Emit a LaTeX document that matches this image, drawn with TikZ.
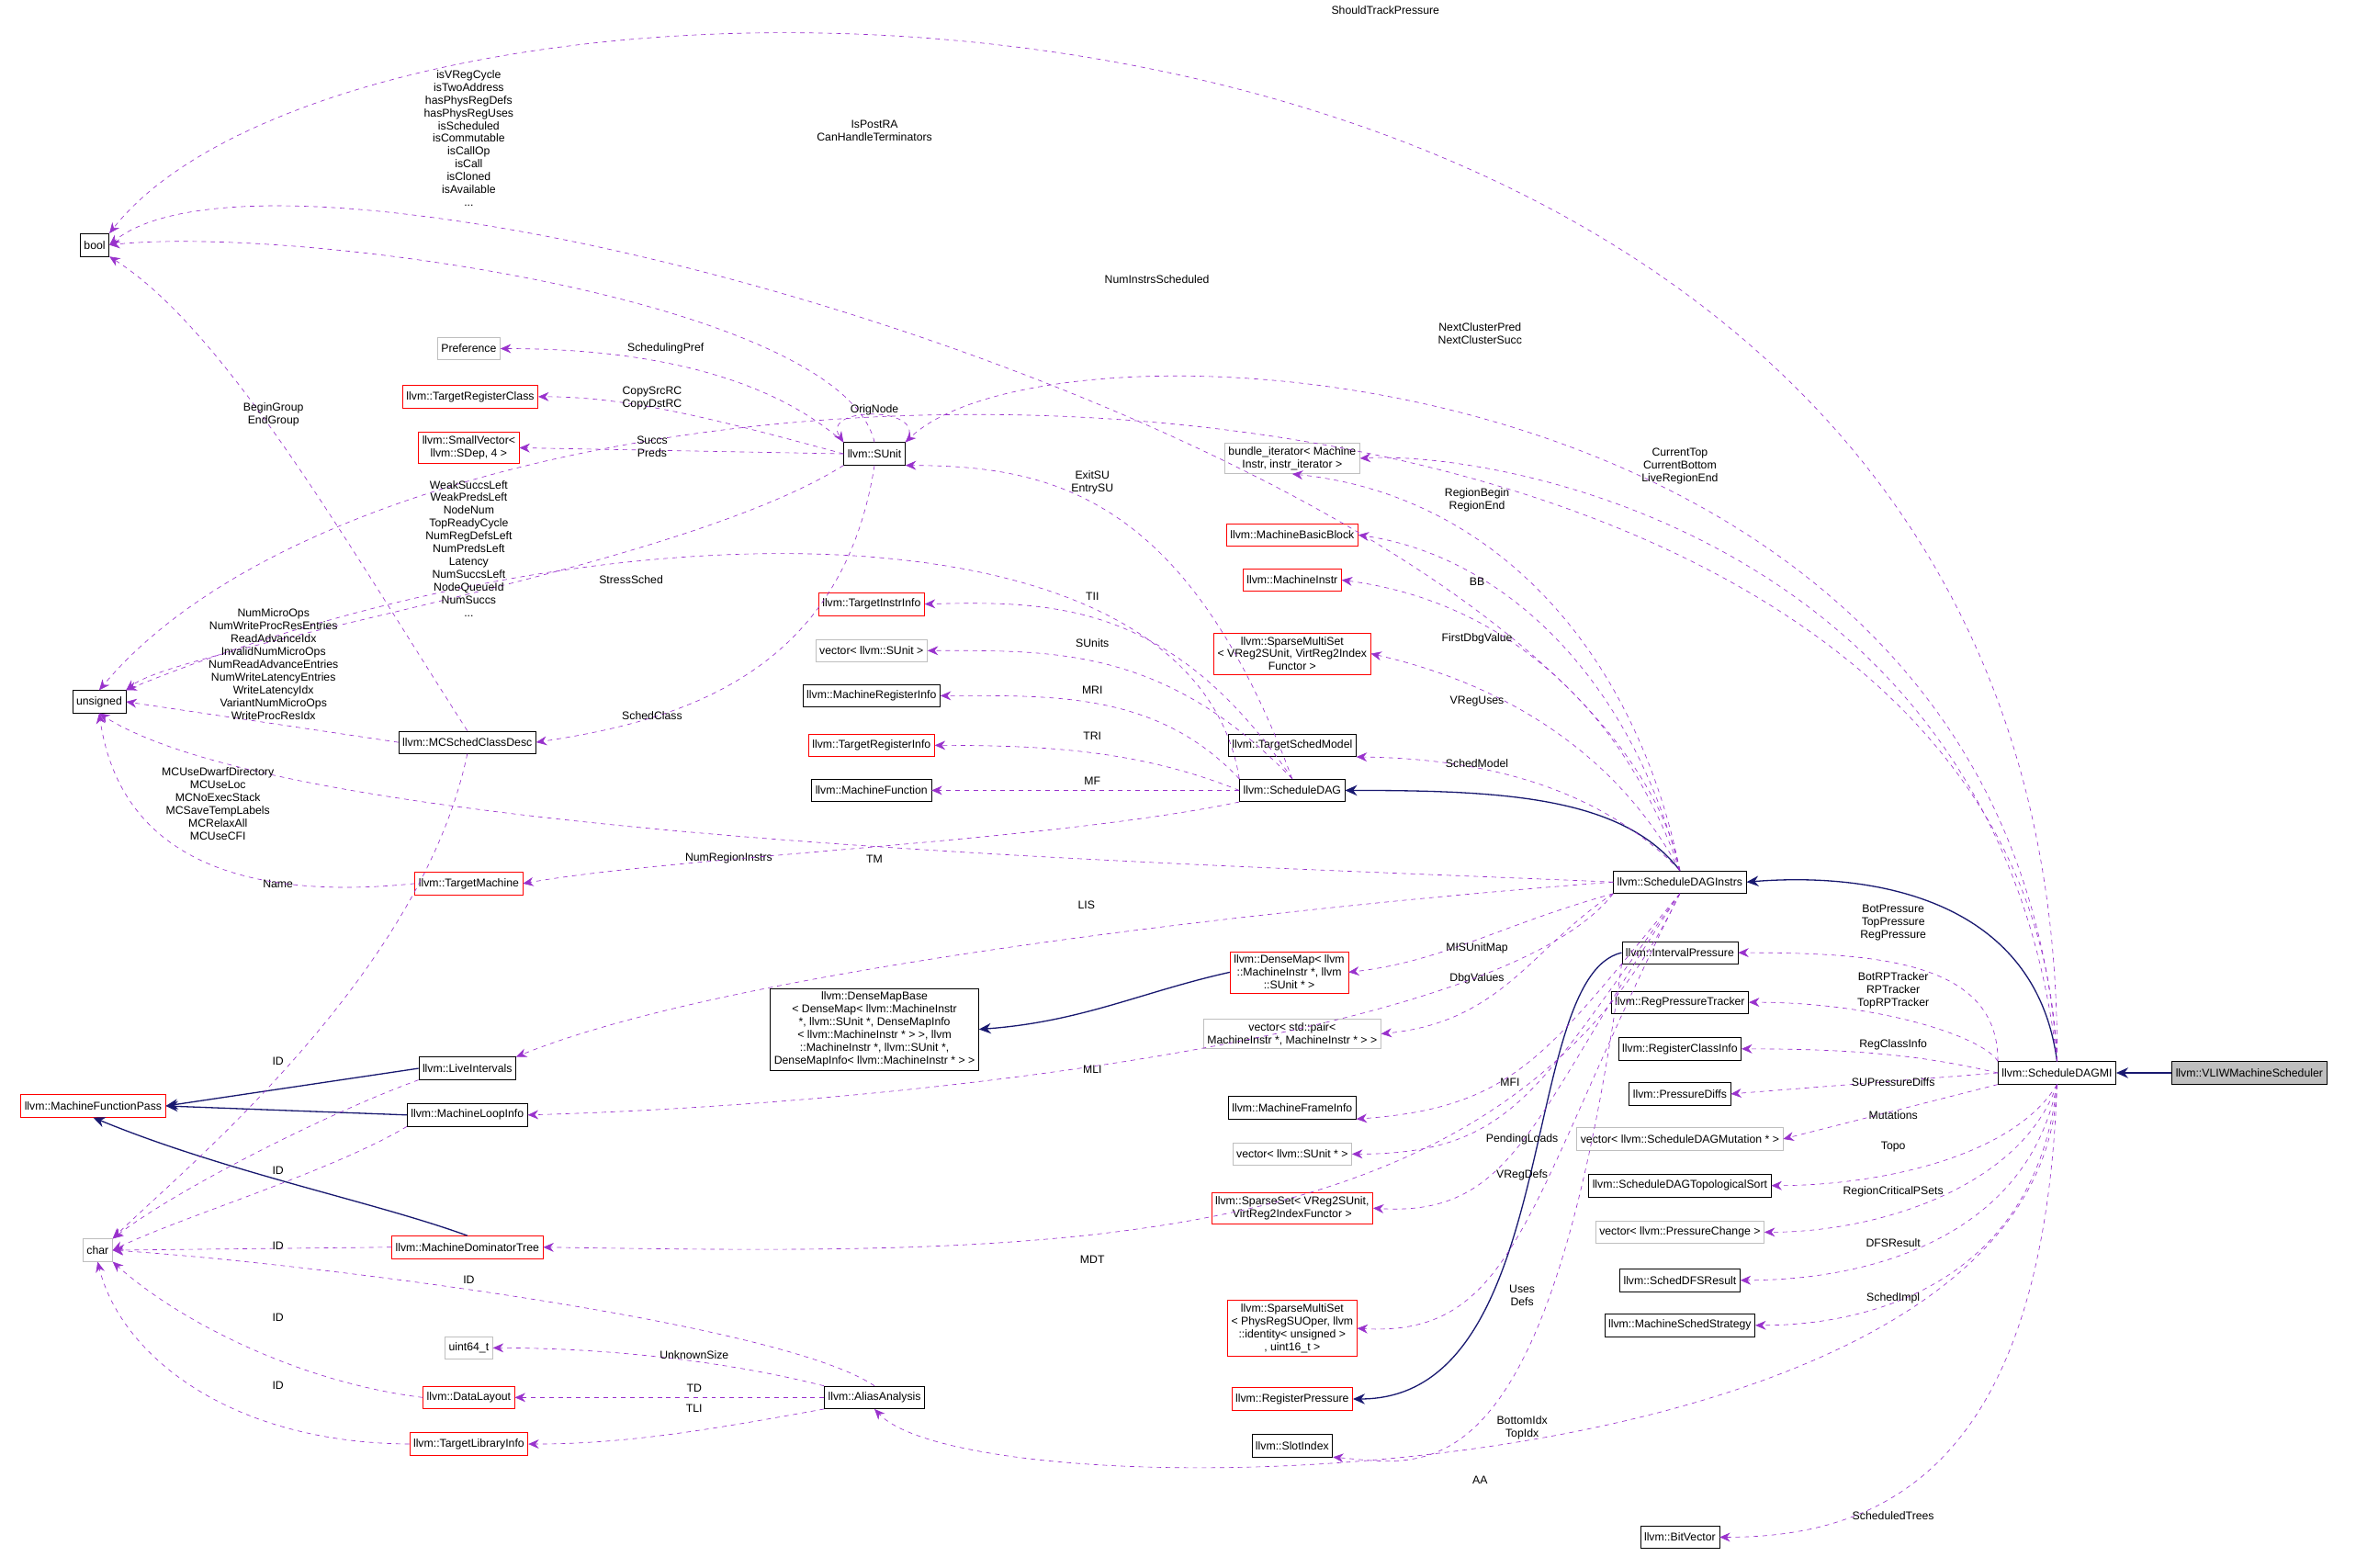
\documentclass[tikz,border=0pt]{standalone}
\usepackage{fontspec}
\setmainfont{Liberation Sans}
\usetikzlibrary{arrows.meta, positioning}
\definecolor{usecol}{RGB}{153,50,204}
\definecolor{inhcol}{RGB}{25,25,112}
\definecolor{boxgray}{RGB}{191,191,191}

\tikzset{
  cls/.style={draw=black, fill=white, inner sep=2.5pt, minimum height=15pt, align=center, font=\fontsize{7.5}{8.5}\selectfont},
  redcls/.style={cls, draw=red},
  graycls/.style={cls, draw=boxgray},
  use/.style={usecol, dashed, -{Stealth[length=7pt,width=6pt]}},
  inh/.style={inhcol, line width=0.8pt, -{Stealth[length=8pt,width=7pt]}},
  lbl/.style={align=center, inner sep=0pt, font=\fontsize{7.5}{8.5}\selectfont}
}

\begin{document}
\begin{tikzpicture}[x=1pt,y=-1pt]
  \useasboundingbox (0,0) rectangle (1568,1043);

  % left column
  \node[cls] (bool) at (63,163) {bool};
  \node[cls] (unsigned) at (66,467) {unsigned};
  \node[redcls] (mfp) at (62,736) {llvm::MachineFunctionPass};
  \node[graycls] (char) at (65,832) {char};

  % second column
  \node[graycls] (pref) at (312,232) {Preference};
  \node[redcls] (trc) at (313,264) {llvm::TargetRegisterClass};
  \node[redcls] (svec) at (312,298) {llvm::SmallVector<\\llvm::SDep, 4 >};
  \node[cls] (mcsd) at (311,494) {llvm::MCSchedClassDesc};
  \node[redcls] (tm) at (312,588) {llvm::TargetMachine};
  \node[cls] (lis) at (311,711) {llvm::LiveIntervals};
  \node[cls] (mli) at (311,742) {llvm::MachineLoopInfo};
  \node[redcls] (mdt) at (311,830) {llvm::MachineDominatorTree};
  \node[graycls] (u64) at (312,897) {uint64\_t};
  \node[redcls] (dl) at (312,930) {llvm::DataLayout};
  \node[redcls] (tli) at (312,961) {llvm::TargetLibraryInfo};

  % third column
  \node[cls] (sunit) at (582,302) {llvm::SUnit};
  \node[redcls] (tii) at (580,402) {llvm::TargetInstrInfo};
  \node[graycls] (vsu) at (580,433) {vector< llvm::SUnit >};
  \node[cls] (mri) at (580,463) {llvm::MachineRegisterInfo};
  \node[redcls] (tri) at (580,496) {llvm::TargetRegisterInfo};
  \node[cls] (mf) at (580,526) {llvm::MachineFunction};
  \node[cls] (dmb) at (582,685) {llvm::DenseMapBase\\< DenseMap< llvm::MachineInstr\\ *, llvm::SUnit *, DenseMapInfo\\< llvm::MachineInstr * > >, llvm\\::MachineInstr *, llvm::SUnit *,\\ DenseMapInfo< llvm::MachineInstr * > >};
  \node[cls] (aa) at (582,930) {llvm::AliasAnalysis};

  % fourth column
  \node[graycls] (bit) at (860,305) {bundle\_iterator< Machine\\Instr, instr\_iterator >};
  \node[redcls] (mbb) at (860,356) {llvm::MachineBasicBlock};
  \node[redcls] (mi) at (860,386) {llvm::MachineInstr};
  \node[redcls] (smsv) at (860,435) {llvm::SparseMultiSet\\< VReg2SUnit, VirtReg2Index\\Functor >};
  \node[cls] (tsm) at (860,496) {llvm::TargetSchedModel};
  \node[cls] (sd) at (860,526) {llvm::ScheduleDAG};
  \node[redcls] (dm) at (858,647) {llvm::DenseMap< llvm\\::MachineInstr *, llvm\\::SUnit * >};
  \node[graycls] (vpair) at (860,688) {vector< std::pair<\\ MachineInstr *, MachineInstr * > >};
  \node[cls] (mfi) at (860,737) {llvm::MachineFrameInfo};
  \node[graycls] (vsup) at (860,768) {vector< llvm::SUnit * >};
  \node[redcls] (sps) at (860,804) {llvm::SparseSet< VReg2SUnit,\\ VirtReg2IndexFunctor >};
  \node[redcls] (smsp) at (860,884) {llvm::SparseMultiSet\\< PhysRegSUOper, llvm\\::identity< unsigned >\\, uint16\_t >};
  \node[redcls] (rp) at (860,931) {llvm::RegisterPressure};
  \node[cls] (si) at (860,962) {llvm::SlotIndex};

  % fifth column
  \node[cls] (sdi) at (1118,587) {llvm::ScheduleDAGInstrs};
  \node[cls] (ip) at (1118,634) {llvm::IntervalPressure};
  \node[cls] (rpt) at (1118,667) {llvm::RegPressureTracker};
  \node[cls] (rci) at (1118,698) {llvm::RegisterClassInfo};
  \node[cls] (pd) at (1118,728) {llvm::PressureDiffs};
  \node[graycls] (vmut) at (1118,758) {vector< llvm::ScheduleDAGMutation * >};
  \node[cls] (topo) at (1118,789) {llvm::ScheduleDAGTopologicalSort};
  \node[graycls] (vpc) at (1118,820) {vector< llvm::PressureChange >};
  \node[cls] (dfs) at (1118,852) {llvm::SchedDFSResult};
  \node[cls] (mss) at (1118,882) {llvm::MachineSchedStrategy};
  \node[cls] (bv) at (1118,1023) {llvm::BitVector};

  % right
  \node[cls] (dagmi) at (1369,714) {llvm::ScheduleDAGMI};
  \node[cls, fill=boxgray] (vliw) at (1497,714) {llvm::VLIWMachineScheduler};

  % inheritance
  \draw[inh] (vliw) -- (dagmi);
  \draw[inh] (dagmi.north) .. controls (1355,600) and (1250,580) .. (sdi.east);
  \draw[inh] (sdi.north) .. controls (1080,530) and (1000,526) .. (sd.east);
  \draw[inh] (dm.west) .. controls (760,660) and (720,680) .. (dmb.east);
  \draw[inh] (lis.west) -- (mfp.east);
  \draw[inh] (mli.west) -- (mfp.east);
  \draw[inh] (mdt.north) .. controls (250,800) and (150,780) .. (mfp.south);
  \draw[inh] (ip.west) .. controls (1010,650) and (1040,931) .. (rp.east);

  % ScheduleDAGMI members
  \draw[use] (dagmi.north) .. controls (1375,-80) and (250,-70) .. (bool.north east);
  \node[lbl] at (922,7) {ShouldTrackPressure};
  \draw[use] (dagmi.north) .. controls (1350,190) and (300,180) .. (unsigned.north);
  \node[lbl] at (770,186) {NumInstrsScheduled};
  \draw[use] (dagmi.north) .. controls (1340,230) and (700,200) .. (sunit.north east);
  \node[lbl] at (985,222) {NextClusterPred\\NextClusterSucc};
  \draw[use] (dagmi.north) .. controls (1330,360) and (1000,300) .. (bit.east);
  \node[lbl] at (1118,310) {CurrentTop\\CurrentBottom\\LiveRegionEnd};
  \draw[use] (dagmi.north west) .. controls (1330,640) and (1250,634) .. (ip.east);
  \node[lbl] at (1260,614) {BotPressure\\TopPressure\\RegPressure};
  \draw[use] (dagmi.north west) .. controls (1320,690) and (1250,667) .. (rpt.east);
  \node[lbl] at (1260,659) {BotRPTracker\\RPTracker\\TopRPTracker};
  \draw[use] (dagmi.west) .. controls (1290,705) and (1250,698) .. (rci.east);
  \node[lbl] at (1260,695) {RegClassInfo};
  \draw[use] (dagmi.west) -- (pd.east);
  \node[lbl] at (1260,720) {SUPressureDiffs};
  \draw[use] (dagmi.south west) -- (vmut.east);
  \node[lbl] at (1260,742) {Mutations};
  \draw[use] (dagmi.south) .. controls (1340,770) and (1250,789) .. (topo.east);
  \node[lbl] at (1260,763) {Topo};
  \draw[use] (dagmi.south) .. controls (1345,790) and (1250,820) .. (vpc.east);
  \node[lbl] at (1260,793) {RegionCriticalPSets};
  \draw[use] (dagmi.south) .. controls (1350,820) and (1250,852) .. (dfs.east);
  \node[lbl] at (1260,827) {DFSResult};
  \draw[use] (dagmi.south) .. controls (1355,850) and (1250,882) .. (mss.east);
  \node[lbl] at (1260,864) {SchedImpl};
  \draw[use] (dagmi.south) .. controls (1360,980) and (1250,1023) .. (bv.east);
  \node[lbl] at (1260,1009) {ScheduledTrees};
  \draw[use] (dagmi.south) .. controls (1360,1000) and (650,1010) .. (aa.south);
  \node[lbl] at (985,985) {AA};

  % ScheduleDAGInstrs members
  \draw[use] (sdi.north) .. controls (1060,300) and (200,60) .. (bool.east);
  \node[lbl] at (582,87) {IsPostRA\\CanHandleTerminators};
  \draw[use] (sdi.north) .. controls (1090,440) and (1000,330) .. (bit.south);
  \node[lbl] at (983,333) {RegionBegin\\RegionEnd};
  \draw[use] (sdi.north) .. controls (1085,450) and (1000,370) .. (mbb.east);
  \node[lbl] at (983,387) {BB};
  \draw[use] (sdi.north) .. controls (1080,470) and (1000,400) .. (mi.east);
  \node[lbl] at (983,425) {FirstDbgValue};
  \draw[use] (sdi.north) .. controls (1075,500) and (1000,455) .. (smsv.east);
  \node[lbl] at (983,467) {VRegUses};
  \draw[use] (sdi.north) .. controls (1070,530) and (1000,505) .. (tsm.south east);
  \node[lbl] at (983,508) {SchedModel};
  \draw[use] (sdi.west) .. controls (800,575) and (200,560) .. (unsigned.south);
  \node[lbl] at (485,571) {NumRegionInstrs};
  \draw[use] (sdi.west) .. controls (900,600) and (500,640) .. (lis.north east);
  \node[lbl] at (723,602) {LIS};
  \draw[use] (sdi.south west) .. controls (1000,615) and (960,640) .. (dm.east);
  \node[lbl] at (983,631) {MISUnitMap};
  \draw[use] (sdi.south west) .. controls (1020,630) and (1000,680) .. (vpair.east);
  \node[lbl] at (983,651) {DbgValues};
  \draw[use] (sdi.south west) .. controls (1000,690) and (600,735) .. (mli.east);
  \node[lbl] at (727,712) {MLI};
  \draw[use] (sdi.south) .. controls (1030,700) and (1010,737) .. (mfi.south east);
  \node[lbl] at (1005,720) {MFI};
  \draw[use] (sdi.south) .. controls (1025,720) and (1010,768) .. (vsup.east);
  \node[lbl] at (1013,758) {PendingLoads};
  \draw[use] (sdi.south) .. controls (1020,740) and (1010,810) .. (sps.east);
  \node[lbl] at (1013,782) {VRegDefs};
  \draw[use] (sdi.south) .. controls (1000,840) and (700,835) .. (mdt.east);
  \node[lbl] at (727,838) {MDT};
  \draw[use] (sdi.south) .. controls (1015,800) and (1010,890) .. (smsp.east);
  \node[lbl] at (1013,862) {Uses\\Defs};
  \draw[use] (ip.south west) .. controls (1030,1000) and (950,975) .. (si.south east);
  \node[lbl] at (1013,950) {BottomIdx\\TopIdx};

  % ScheduleDAG members
  \draw[use] (sd.north) .. controls (790,330) and (700,310) .. (sunit.south east);
  \node[lbl] at (727,321) {ExitSU\\EntrySU};
  \draw[use] (sd.north) .. controls (780,400) and (700,400) .. (tii.east);
  \node[lbl] at (727,397) {TII};
  \draw[use] (sd.north) .. controls (775,430) and (700,433) .. (vsu.east);
  \node[lbl] at (727,428) {SUnits};
  \draw[use] (sd.north west) .. controls (770,460) and (700,463) .. (mri.east);
  \node[lbl] at (727,459) {MRI};
  \draw[use] (sd.west) .. controls (760,500) and (700,496) .. (tri.east);
  \node[lbl] at (727,490) {TRI};
  \draw[use] (sd.west) -- (mf.east);
  \node[lbl] at (727,520) {MF};
  \draw[use] (sd.south west) .. controls (700,560) and (450,570) .. (tm.east);
  \node[lbl] at (582,572) {TM};
  \draw[use] (sd.north west) .. controls (795,330) and (400,330) .. (unsigned.north east);
  \node[lbl] at (420,386) {StressSched};

  % SUnit members
  \draw[use] (sunit.north) .. controls (560,200) and (200,150) .. (bool.east);
  \node[lbl] at (312,92) {isVRegCycle\\isTwoAddress\\hasPhysRegDefs\\hasPhysRegUses\\isScheduled\\isCommutable\\isCallOp\\isCall\\isCloned\\isAvailable\\...};
  \draw[use] (sunit.north west) .. controls (500,240) and (400,232) .. (pref.east);
  \node[lbl] at (443,232) {SchedulingPref};
  \draw[use] (sunit.west) .. controls (480,280) and (420,264) .. (trc.east);
  \node[lbl] at (434,265) {CopySrcRC\\CopyDstRC};
  \draw[use] (sunit.west) -- (svec.east);
  \node[lbl] at (434,297) {Succs\\Preds};
  \draw[use] (sunit.north east) .. controls (620,270) and (545,270) .. (sunit.north west);
  \node[lbl] at (582,273) {OrigNode};
  \draw[use] (sunit.south west) .. controls (450,380) and (120,430) .. (unsigned.north east);
  \node[lbl] at (312,365) {WeakSuccsLeft\\WeakPredsLeft\\NodeNum\\TopReadyCycle\\NumRegDefsLeft\\NumPredsLeft\\Latency\\NumSuccsLeft\\NodeQueueId\\NumSuccs\\...};
  \draw[use] (sunit.south) .. controls (560,450) and (450,480) .. (mcsd.east);
  \node[lbl] at (434,476) {SchedClass};

  % MCSchedClassDesc members
  \draw[use] (mcsd.north) .. controls (230,360) and (150,220) .. (bool.south east);
  \node[lbl] at (182,276) {BeginGroup\\EndGroup};
  \draw[use] (mcsd.west) -- (unsigned.east);
  \node[lbl] at (182,442) {NumMicroOps\\NumWriteProcResEntries\\ReadAdvanceIdx\\InvalidNumMicroOps\\NumReadAdvanceEntries\\NumWriteLatencyEntries\\WriteLatencyIdx\\VariantNumMicroOps\\WriteProcResIdx};
  \draw[use] (mcsd.south) .. controls (280,650) and (120,780) .. (char.north east);
  \node[lbl] at (185,588) {Name};
  \draw[use] (tm.west) .. controls (160,600) and (80,570) .. (unsigned.south);
  \node[lbl] at (145,535) {MCUseDwarfDirectory\\MCUseLoc\\MCNoExecStack\\MCSaveTempLabels\\MCRelaxAll\\MCUseCFI};

  % ID members
  \draw[use] (lis.south west) .. controls (220,740) and (120,790) .. (char.north east);
  \node[lbl] at (185,706) {ID};
  \draw[use] (mli.south west) .. controls (220,780) and (120,810) .. (char.east);
  \node[lbl] at (185,779) {ID};
  \draw[use] (mdt.west) -- (char.east);
  \node[lbl] at (185,829) {ID};
  \draw[use] (aa.north) .. controls (520,880) and (200,840) .. (char.east);
  \node[lbl] at (312,852) {ID};
  \draw[use] (dl.west) .. controls (200,920) and (120,880) .. (char.south east);
  \node[lbl] at (185,877) {ID};
  \draw[use] (tli.west) .. controls (150,960) and (80,900) .. (char.south);
  \node[lbl] at (185,922) {ID};

  % AliasAnalysis members
  \draw[use] (aa.north west) .. controls (480,905) and (400,897) .. (u64.east);
  \node[lbl] at (462,902) {UnknownSize};
  \draw[use] (aa.west) -- (dl.east);
  \node[lbl] at (462,924) {TD};
  \draw[use] (aa.south west) .. controls (480,950) and (420,961) .. (tli.east);
  \node[lbl] at (462,937) {TLI};
\end{tikzpicture}
\end{document}
